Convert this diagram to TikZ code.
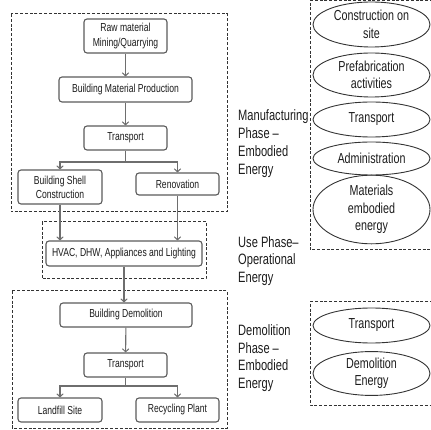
\documentclass[tikz,border=0pt]{standalone}
\usepackage{fontspec}
\setmainfont{Liberation Sans}[FakeStretch=0.74]
\usetikzlibrary{arrows.meta,shapes.geometric}
\definecolor{boxline}{HTML}{5A5A5A}
\definecolor{flowline}{HTML}{6E6E6E}
\definecolor{ink}{HTML}{1C1C1C}
\definecolor{frame}{HTML}{333333}
\begin{document}
\begin{tikzpicture}[x=1pt,y=-1pt,
  stage/.style={draw=boxline,line width=1.1pt,rounded corners=3pt,inner sep=0pt,
    text=ink,align=center,font=\fontsize{11.6}{14.2}\selectfont},
  flow/.style={draw=flowline,line width=1.1pt},
  flowarr/.style={flow,-{Straight Barb[length=3pt,width=6.5pt,line width=1pt]}},
  phasebox/.style={draw=frame,line width=1pt,dash pattern=on 3pt off 1.8pt},
  activity/.style={ellipse,draw=frame,line width=0.9pt,inner sep=0pt,
    minimum width=117pt,text=ink,align=center,font=\fontsize{14.5}{17.5}\selectfont},
  phaselabel/.style={anchor=north west,inner sep=0pt,text=ink,align=left,
    font=\fontsize{15}{17.8}\selectfont}]
\useasboundingbox (0,0) rectangle (431,430);

% phase frames on the left
\draw[phasebox] (11,14) rectangle (227,212);
\draw[phasebox] (42,222) rectangle (206,279);
\draw[phasebox] (12,291) rectangle (227,428);

% activity frames on the right (open towards the page edge)
\draw[phasebox] (433,0.8) -- (310,0.8) -- (310,250) -- (433,250);
\draw[phasebox] (433,302) -- (310,302) -- (310,405) -- (433,405);

% life-cycle stages
\node[stage,minimum width=83pt,minimum height=34pt] (raw) at (125.5,36) {Raw material\\Mining/Quarrying};
\node[stage,minimum width=133pt,minimum height=25pt] (bmp) at (125.5,89.5) {Building Material Production};
\node[stage,minimum width=83pt,minimum height=24pt] (tra) at (125.5,138) {Transport};
\node[stage,minimum width=84pt,minimum height=34pt] (shell) at (60,187) {Building Shell\\Construction};
\node[stage,minimum width=83pt,minimum height=22pt] (reno) at (177.5,184) {Renovation};
\node[stage,minimum width=156pt,minimum height=25pt] (hvac) at (124,253.5) {HVAC, DHW, Appliances and Lighting};
\node[stage,minimum width=132pt,minimum height=24pt] (demo) at (126,315) {Building Demolition};
\node[stage,minimum width=83pt,minimum height=24pt] (trb) at (125.5,365) {Transport};
\node[stage,minimum width=84pt,minimum height=24pt] (land) at (60,410) {Landfill Site};
\node[stage,minimum width=83pt,minimum height=24pt] (recy) at (177.5,410) {Recycling Plant};

\coordinate (splita) at (125.5,162);
\coordinate (splitb) at (125.5,386);

% flow between stages
\draw[flowarr] (raw) -- (bmp);
\draw[flowarr] (bmp) -- (tra);
\draw[flow] (tra) -- (splita);
\draw[flowarr] (splita) -| (shell.north);
\draw[flowarr] (splita) -| (reno.north);
\draw[flowarr] (shell.south) -- (shell.south |- hvac.north);
\draw[flowarr] (reno.south) -- (reno.south |- hvac.north);
\draw[flowarr] (hvac.south) -- (hvac.south |- demo.north);
\draw[flowarr] (demo) -- (trb);
\draw[flow] (trb) -- (splitb);
\draw[flowarr] (splitb) -| (land.north);
\draw[flowarr] (splitb) -| (recy.north);

% phase labels
\node[phaselabel] (lman) at (238,109.6) {Manufacturing\\Phase --\\Embodied\\Energy};
\node[phaselabel] (luse) at (238,236) {Use Phase--\\Operational\\Energy};
\node[phaselabel] (ldem) at (238,324.3) {Demolition\\Phase --\\Embodied\\Energy};

% energy contributions
\node[activity,minimum height=45pt] (site) at (371.5,24.5) {Construction on\\site};
\node[activity,minimum height=44pt] (pref) at (371.5,75) {Prefabrication\\activities};
\node[activity,minimum height=35pt] (trn) at (371.5,119.5) {Transport};
\node[activity,minimum height=33pt] (adm) at (371.5,158.5) {Administration};
\node[activity,minimum height=59pt] (mat) at (371.5,209.5) {Materials\\embodied\\energy};
\node[activity,minimum height=35pt] (trd) at (371.5,325.5) {Transport};
\node[activity,minimum height=43pt] (dem) at (371.5,373.5) {Demolition\\Energy};
\end{tikzpicture}
\end{document}
